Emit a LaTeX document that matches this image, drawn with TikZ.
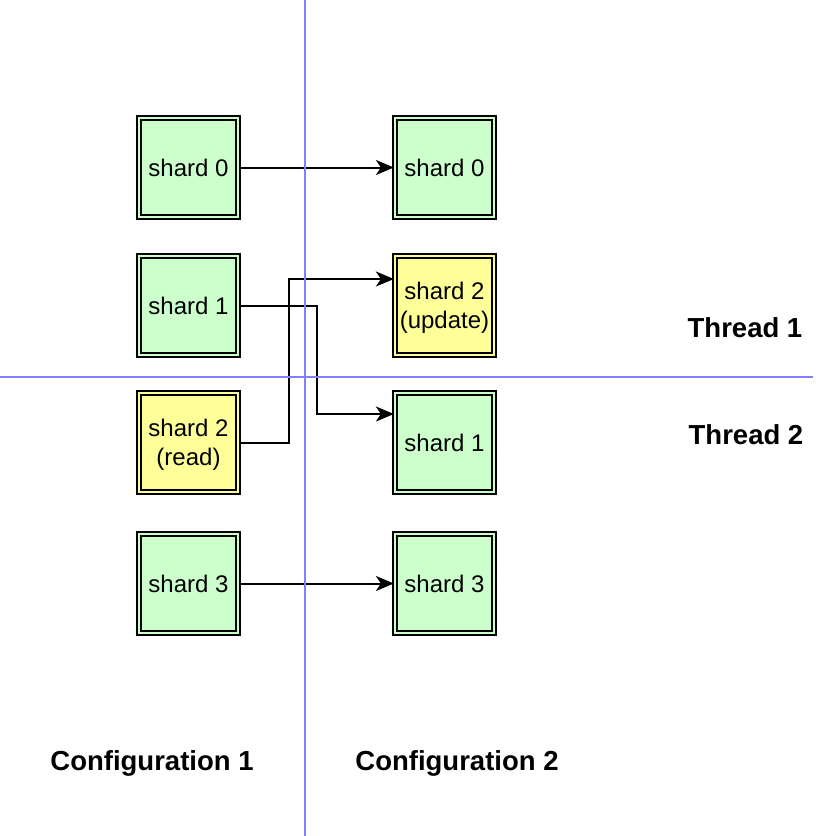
\documentclass[tikz,border=0pt]{standalone}
\usepackage{fontspec}
\setmainfont{Liberation Sans}
\usetikzlibrary{arrows.meta}

\definecolor{shardgreen}{RGB}{204,255,204}
\definecolor{shardyellow}{RGB}{255,255,153}
\definecolor{splitblue}{RGB}{128,128,255}

\tikzset{
	shard/.style={draw=black, line width=2pt, double distance=1.8pt,
		minimum width=99.2pt, minimum height=99.2pt, inner sep=0pt,
		align=center, font=\fontsize{24}{29}\selectfont},
	label/.style={font=\fontsize{27.5}{32}\selectfont\bfseries},
	arr/.style={-{Stealth[length=18pt,width=15pt,inset=5pt]}, line width=2pt}
}

\begin{document}
\begin{tikzpicture}[x=1pt,y=-1pt]
		\useasboundingbox (0,0) rectangle (816,836);
		
			\node[shard, double=shardgreen, fill=shardgreen] (a) at (188.5,167.5)  {shard 0};
			\node[shard, double=shardgreen, fill=shardgreen] (b) at (188.5,305.5)  {shard 1};
			\node[shard, double=shardyellow, fill=shardyellow, text depth=0pt] (c) at (188.5,442.5)  {shard 2\\(read)};
			\node[shard, double=shardgreen, fill=shardgreen] (d) at (188.5,583.5)  {shard 3};
			
			\node[shard, double=shardgreen, fill=shardgreen] (e) at (444.5,167.5)  {shard 0};
			\node[shard, double=shardyellow, fill=shardyellow, text depth=0pt] (f) at (444.5,305.5)  {shard 2\\(update)};
			\node[shard, double=shardgreen, fill=shardgreen] (g) at (444.5,442.5)  {shard 1};
			\node[shard, double=shardgreen, fill=shardgreen] (h) at (444.5,583.5)  {shard 3};
			
			\node[label] (t1) at (745,328)  {Thread 1};
			\node[label] (t2) at (746,435)  {Thread 2};
			\node[label] (c1) at (152,763)  {Configuration 1};
			\node[label] (c2) at (457,763)  {Configuration 2};
			
			\draw[arr] (a) -- (e);
			\draw[arr] (d) -- (h);
			\draw[arr] (b.east) -- (317,305.5) |- ([yshift=28.5pt]g.west);
			\draw[arr] (c.east) -- (289,442.5) |- ([yshift=26.5pt]f.west);
			
			\draw[splitblue, line width=1.5pt] (305,0) -- (305,836)
			(0,377) -- (813,377);
			
		\end{tikzpicture}
\end{document}
